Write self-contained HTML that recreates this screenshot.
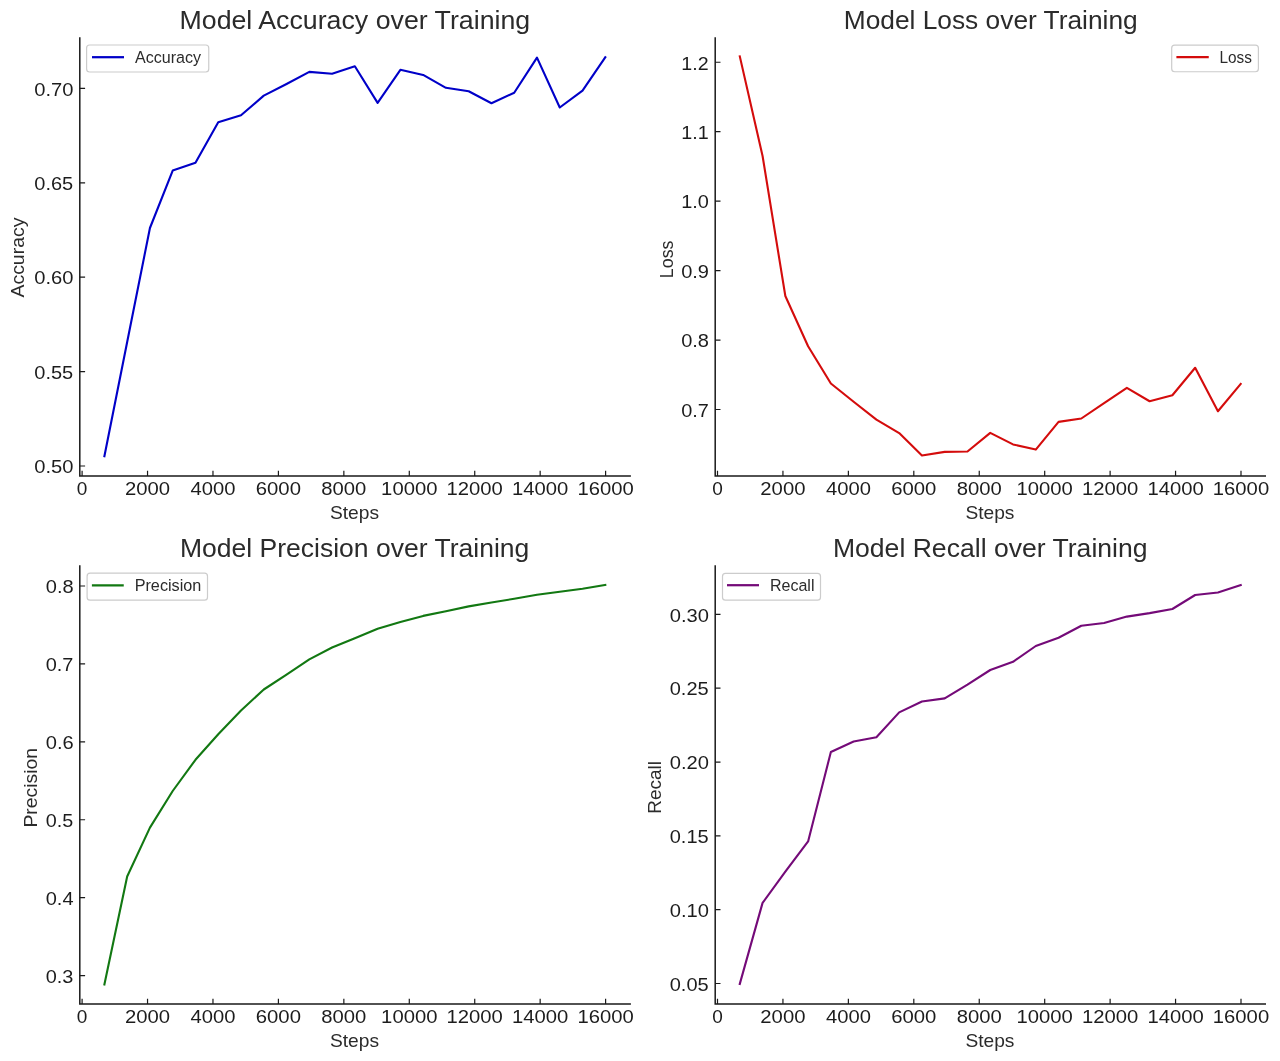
<!DOCTYPE html>
<html><head><meta charset="utf-8"><title>Training Metrics</title>
<style>
html,body{margin:0;padding:0;background:#fff;}
svg{display:block;will-change:transform;}
text{font-family:"Liberation Sans",sans-serif;}
</style></head><body>
<svg width="1280" height="1061" viewBox="0 0 1280 1061">
<rect width="1280" height="1061" fill="#fff"/>
<path d="M79.8 37.3 V476 H630.9" fill="none" stroke="#1a1a1a" stroke-width="1.5"/>
<text transform="translate(76.78 494.9) scale(0.9951 1)" font-size="19.13" fill="#1c1c1c">0</text>
<text transform="translate(124.92 494.9) scale(1.0610 1)" font-size="19.13" fill="#1c1c1c">2000</text>
<text transform="translate(190.51 494.9) scale(1.0573 1)" font-size="19.13" fill="#1c1c1c">4000</text>
<text transform="translate(255.75 494.9) scale(1.0621 1)" font-size="19.13" fill="#1c1c1c">6000</text>
<text transform="translate(321.3 494.9) scale(1.0595 1)" font-size="19.13" fill="#1c1c1c">8000</text>
<text transform="translate(381.12 494.9) scale(1.0600 1)" font-size="19.13" fill="#1c1c1c">10000</text>
<text transform="translate(446.55 494.9) scale(1.0600 1)" font-size="19.13" fill="#1c1c1c">12000</text>
<text transform="translate(511.99 494.9) scale(1.0600 1)" font-size="19.13" fill="#1c1c1c">14000</text>
<text transform="translate(577.43 494.9) scale(1.0600 1)" font-size="19.13" fill="#1c1c1c">16000</text>
<text transform="translate(34.28 95.65) scale(1.0555 1)" font-size="19.13" fill="#1c1c1c">0.70</text>
<text transform="translate(34.29 190.05) scale(1.0469 1)" font-size="19.13" fill="#1c1c1c">0.65</text>
<text transform="translate(34.28 284.45) scale(1.0555 1)" font-size="19.13" fill="#1c1c1c">0.60</text>
<text transform="translate(34.29 378.85) scale(1.0469 1)" font-size="19.13" fill="#1c1c1c">0.55</text>
<text transform="translate(34.28 473.25) scale(1.0555 1)" font-size="19.13" fill="#1c1c1c">0.50</text>
<path d="M82.1 476V470.7M147.54 476V470.7M212.97 476V470.7M278.41 476V470.7M343.85 476V470.7M409.29 476V470.7M474.73 476V470.7M540.16 476V470.7M605.6 476V470.7M79.8 88.4H85.1M79.8 182.8H85.1M79.8 277.2H85.1M79.8 371.6H85.1M79.8 466H85.1" fill="none" stroke="#1a1a1a" stroke-width="1.2"/>
<polyline points="104.4,456.3 127.17,342 149.94,228 172.7,170.6 195.47,162.8 218.24,122.3 241.01,115.3 263.78,95.6 286.54,84 309.31,71.9 332.08,73.75 354.85,66.3 377.62,102.9 400.38,69.8 423.15,74.9 445.92,87.8 468.69,91.3 491.46,103.3 514.22,92.7 536.99,57.6 559.76,107.5 582.53,90.6 605.3,57.2" fill="none" stroke="#0000c8" stroke-width="2.1" stroke-linejoin="round" stroke-linecap="square"/>
<text transform="translate(179.49 28.9) scale(1.0370 1)" font-size="25.8" fill="#2b2b2b">Model Accuracy over Training</text>
<text transform="translate(330 518.7) scale(1.0090 1)" font-size="19.02" fill="#2b2b2b">Steps</text>
<text transform="translate(24.4 297.55) rotate(-90) scale(1.0229 1)" font-size="19.02" fill="#2b2b2b">Accuracy</text>
<rect x="86.6" y="45" width="122.15" height="27" rx="3" ry="3" fill="#fff" fill-opacity="0.8" stroke="#cccccc" stroke-width="1.2"/>
<path d="M92 57.2H124" stroke="#0000c8" stroke-width="2.25" stroke-linecap="butt"/>
<text transform="translate(134.96 63.1) scale(1.0134 1)" font-size="15.86" fill="#2b2b2b">Accuracy</text>
<path d="M715.2 37.3 V476 H1266" fill="none" stroke="#1a1a1a" stroke-width="1.5"/>
<text transform="translate(712.18 494.9) scale(0.9951 1)" font-size="19.13" fill="#1c1c1c">0</text>
<text transform="translate(760.32 494.9) scale(1.0610 1)" font-size="19.13" fill="#1c1c1c">2000</text>
<text transform="translate(825.91 494.9) scale(1.0573 1)" font-size="19.13" fill="#1c1c1c">4000</text>
<text transform="translate(891.15 494.9) scale(1.0621 1)" font-size="19.13" fill="#1c1c1c">6000</text>
<text transform="translate(956.7 494.9) scale(1.0595 1)" font-size="19.13" fill="#1c1c1c">8000</text>
<text transform="translate(1016.52 494.9) scale(1.0600 1)" font-size="19.13" fill="#1c1c1c">10000</text>
<text transform="translate(1081.95 494.9) scale(1.0600 1)" font-size="19.13" fill="#1c1c1c">12000</text>
<text transform="translate(1147.39 494.9) scale(1.0600 1)" font-size="19.13" fill="#1c1c1c">14000</text>
<text transform="translate(1212.83 494.9) scale(1.0600 1)" font-size="19.13" fill="#1c1c1c">16000</text>
<text transform="translate(681.28 69.5) scale(1.0264 1)" font-size="19.13" fill="#1c1c1c">1.2</text>
<text transform="translate(681.27 138.95) scale(1.0318 1)" font-size="19.13" fill="#1c1c1c">1.1</text>
<text transform="translate(681.26 208.4) scale(1.0422 1)" font-size="19.13" fill="#1c1c1c">1.0</text>
<text transform="translate(681.14 277.85) scale(1.0491 1)" font-size="19.13" fill="#1c1c1c">0.9</text>
<text transform="translate(681.14 347.3) scale(1.0489 1)" font-size="19.13" fill="#1c1c1c">0.8</text>
<text transform="translate(681.15 416.75) scale(1.0422 1)" font-size="19.13" fill="#1c1c1c">0.7</text>
<path d="M717.5 476V470.7M782.94 476V470.7M848.38 476V470.7M913.81 476V470.7M979.25 476V470.7M1044.69 476V470.7M1110.12 476V470.7M1175.56 476V470.7M1241 476V470.7M715.2 62.25H720.5M715.2 131.7H720.5M715.2 201.15H720.5M715.2 270.6H720.5M715.2 340.05H720.5M715.2 409.5H720.5" fill="none" stroke="#1a1a1a" stroke-width="1.2"/>
<polyline points="739.8,56.4 762.57,156 785.34,296 808.1,346.2 830.87,383.5 853.64,401.8 876.41,419.7 899.18,433.1 921.94,455.5 944.71,451.9 967.48,451.5 990.25,432.9 1013.02,444.4 1035.78,449.6 1058.55,421.9 1081.32,418.5 1104.09,403.1 1126.86,387.9 1149.62,401.25 1172.39,395.25 1195.16,367.75 1217.93,411.25 1240.7,384" fill="none" stroke="#d40c0c" stroke-width="2.1" stroke-linejoin="round" stroke-linecap="square"/>
<text transform="translate(843.73 28.9) scale(1.0206 1)" font-size="25.8" fill="#2b2b2b">Model Loss over Training</text>
<text transform="translate(965.4 518.7) scale(1.0090 1)" font-size="19.02" fill="#2b2b2b">Steps</text>
<text transform="translate(672.55 278.17) rotate(-90) scale(0.9383 1)" font-size="19.02" fill="#2b2b2b">Loss</text>
<rect x="1171.7" y="45.1" width="86.7" height="26.65" rx="3" ry="3" fill="#fff" fill-opacity="0.8" stroke="#cccccc" stroke-width="1.2"/>
<path d="M1176.4 57.2H1208.75" stroke="#d40c0c" stroke-width="2.25" stroke-linecap="butt"/>
<text transform="translate(1219.48 62.9) scale(0.9690 1)" font-size="15.86" fill="#2b2b2b">Loss</text>
<path d="M79.8 565.3 V1004 H630.9" fill="none" stroke="#1a1a1a" stroke-width="1.5"/>
<text transform="translate(76.78 1022.9) scale(0.9951 1)" font-size="19.13" fill="#1c1c1c">0</text>
<text transform="translate(124.92 1022.9) scale(1.0610 1)" font-size="19.13" fill="#1c1c1c">2000</text>
<text transform="translate(190.51 1022.9) scale(1.0573 1)" font-size="19.13" fill="#1c1c1c">4000</text>
<text transform="translate(255.75 1022.9) scale(1.0621 1)" font-size="19.13" fill="#1c1c1c">6000</text>
<text transform="translate(321.3 1022.9) scale(1.0595 1)" font-size="19.13" fill="#1c1c1c">8000</text>
<text transform="translate(381.12 1022.9) scale(1.0600 1)" font-size="19.13" fill="#1c1c1c">10000</text>
<text transform="translate(446.55 1022.9) scale(1.0600 1)" font-size="19.13" fill="#1c1c1c">12000</text>
<text transform="translate(511.99 1022.9) scale(1.0600 1)" font-size="19.13" fill="#1c1c1c">14000</text>
<text transform="translate(577.43 1022.9) scale(1.0600 1)" font-size="19.13" fill="#1c1c1c">16000</text>
<text transform="translate(45.74 593.25) scale(1.0489 1)" font-size="19.13" fill="#1c1c1c">0.8</text>
<text transform="translate(45.75 671.17) scale(1.0422 1)" font-size="19.13" fill="#1c1c1c">0.7</text>
<text transform="translate(45.74 749.09) scale(1.0525 1)" font-size="19.13" fill="#1c1c1c">0.6</text>
<text transform="translate(45.75 827.01) scale(1.0343 1)" font-size="19.13" fill="#1c1c1c">0.5</text>
<text transform="translate(45.74 904.93) scale(1.0458 1)" font-size="19.13" fill="#1c1c1c">0.4</text>
<text transform="translate(45.75 982.85) scale(1.0399 1)" font-size="19.13" fill="#1c1c1c">0.3</text>
<path d="M82.1 1004V998.7M147.54 1004V998.7M212.97 1004V998.7M278.41 1004V998.7M343.85 1004V998.7M409.29 1004V998.7M474.73 1004V998.7M540.16 1004V998.7M605.6 1004V998.7M79.8 586H85.1M79.8 663.92H85.1M79.8 741.84H85.1M79.8 819.76H85.1M79.8 897.68H85.1M79.8 975.6H85.1" fill="none" stroke="#1a1a1a" stroke-width="1.2"/>
<polyline points="104.4,984.4 127.17,876.5 149.94,827.6 172.7,791 195.47,759.8 218.24,734.3 241.01,710.5 263.78,689.5 286.54,674.7 309.31,659.4 332.08,647.5 354.85,638.3 377.62,628.75 400.38,621.9 423.15,615.9 445.92,611.2 468.69,606.4 491.46,602.5 514.22,598.75 536.99,594.8 559.76,591.7 582.53,588.75 605.3,585" fill="none" stroke="#127812" stroke-width="2.1" stroke-linejoin="round" stroke-linecap="square"/>
<text transform="translate(179.91 556.9) scale(1.0286 1)" font-size="25.8" fill="#2b2b2b">Model Precision over Training</text>
<text transform="translate(330 1046.7) scale(1.0090 1)" font-size="19.02" fill="#2b2b2b">Steps</text>
<text transform="translate(37.2 827.6) rotate(-90) scale(1.0185 1)" font-size="19.02" fill="#2b2b2b">Precision</text>
<rect x="87.1" y="573.2" width="120.4" height="27" rx="3" ry="3" fill="#fff" fill-opacity="0.8" stroke="#cccccc" stroke-width="1.2"/>
<path d="M91.9 585.25H123.75" stroke="#127812" stroke-width="2.25" stroke-linecap="butt"/>
<text transform="translate(134.66 591.25) scale(1.0228 1)" font-size="15.86" fill="#2b2b2b">Precision</text>
<path d="M715.2 565.3 V1004 H1266" fill="none" stroke="#1a1a1a" stroke-width="1.5"/>
<text transform="translate(712.18 1022.9) scale(0.9951 1)" font-size="19.13" fill="#1c1c1c">0</text>
<text transform="translate(760.32 1022.9) scale(1.0610 1)" font-size="19.13" fill="#1c1c1c">2000</text>
<text transform="translate(825.91 1022.9) scale(1.0573 1)" font-size="19.13" fill="#1c1c1c">4000</text>
<text transform="translate(891.15 1022.9) scale(1.0621 1)" font-size="19.13" fill="#1c1c1c">6000</text>
<text transform="translate(956.7 1022.9) scale(1.0595 1)" font-size="19.13" fill="#1c1c1c">8000</text>
<text transform="translate(1016.52 1022.9) scale(1.0600 1)" font-size="19.13" fill="#1c1c1c">10000</text>
<text transform="translate(1081.95 1022.9) scale(1.0600 1)" font-size="19.13" fill="#1c1c1c">12000</text>
<text transform="translate(1147.39 1022.9) scale(1.0600 1)" font-size="19.13" fill="#1c1c1c">14000</text>
<text transform="translate(1212.83 1022.9) scale(1.0600 1)" font-size="19.13" fill="#1c1c1c">16000</text>
<text transform="translate(669.68 621.65) scale(1.0555 1)" font-size="19.13" fill="#1c1c1c">0.30</text>
<text transform="translate(669.69 695.47) scale(1.0469 1)" font-size="19.13" fill="#1c1c1c">0.25</text>
<text transform="translate(669.68 769.29) scale(1.0555 1)" font-size="19.13" fill="#1c1c1c">0.20</text>
<text transform="translate(669.69 843.11) scale(1.0469 1)" font-size="19.13" fill="#1c1c1c">0.15</text>
<text transform="translate(669.68 916.93) scale(1.0555 1)" font-size="19.13" fill="#1c1c1c">0.10</text>
<text transform="translate(669.69 990.75) scale(1.0469 1)" font-size="19.13" fill="#1c1c1c">0.05</text>
<path d="M717.5 1004V998.7M782.94 1004V998.7M848.38 1004V998.7M913.81 1004V998.7M979.25 1004V998.7M1044.69 1004V998.7M1110.12 1004V998.7M1175.56 1004V998.7M1241 1004V998.7M715.2 614.4H720.5M715.2 688.22H720.5M715.2 762.04H720.5M715.2 835.86H720.5M715.2 909.68H720.5M715.2 983.5H720.5" fill="none" stroke="#1a1a1a" stroke-width="1.2"/>
<polyline points="739.8,983.9 762.57,902.9 785.34,871.7 808.1,841.4 830.87,752 853.64,741.5 876.41,737.3 899.18,712.4 921.94,701.5 944.71,698.4 967.48,684.7 990.25,670 1013.02,661.8 1035.78,646 1058.55,637.7 1081.32,625.7 1104.09,623 1126.86,616.6 1149.62,613.1 1172.39,609 1195.16,595 1217.93,592.5 1240.7,585" fill="none" stroke="#740a78" stroke-width="2.1" stroke-linejoin="round" stroke-linecap="square"/>
<text transform="translate(832.91 556.9) scale(1.0304 1)" font-size="25.8" fill="#2b2b2b">Model Recall over Training</text>
<text transform="translate(965.4 1046.7) scale(1.0090 1)" font-size="19.02" fill="#2b2b2b">Steps</text>
<text transform="translate(661 813.77) rotate(-90) scale(0.9997 1)" font-size="19.02" fill="#2b2b2b">Recall</text>
<rect x="722.5" y="573.4" width="98" height="26.8" rx="3" ry="3" fill="#fff" fill-opacity="0.8" stroke="#cccccc" stroke-width="1.2"/>
<path d="M727 585.2H759" stroke="#740a78" stroke-width="2.25" stroke-linecap="butt"/>
<text transform="translate(769.93 591) scale(1.0108 1)" font-size="15.86" fill="#2b2b2b">Recall</text>
</svg>
</body></html>
